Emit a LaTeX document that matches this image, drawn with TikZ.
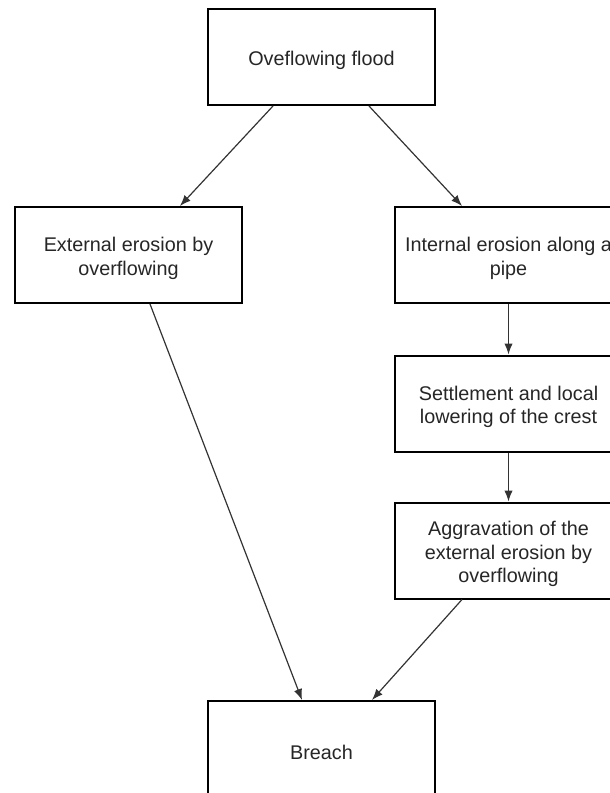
\documentclass[tikz,border=0pt]{standalone}
\usepackage{fontspec}
\setmainfont{Liberation Sans}
\usetikzlibrary{arrows.meta}
\newcommand{\toppad}{\rule{0pt}{10.6pt}}

\begin{document}
\begin{tikzpicture}[x=0.5pt,y=-0.5pt,
    box/.style={draw,line width=1pt,minimum width=113.5pt,minimum height=48pt,
        inner sep=0pt,align=center,text=black!85,font=\fontsize{9.9}{11.6}\selectfont},
    arr/.style={-{Latex[length=5.5pt,width=4.2pt]},line width=0.6pt,draw=black!80}]
    \useasboundingbox (0,0) rectangle (610,793);

    \node[box] (flood) at (321.5,57) {\toppad Oveflowing flood};
    \node[box] (ext) at (128.5,255) {\toppad External erosion by\\overflowing};
    \node[box] (int) at (508.5,255) {\toppad Internal erosion along a\\pipe};
    \node[box] (settle) at (508.5,403.5) {\toppad Settlement and local\\lowering of the crest};
    \node[box] (aggr) at (508.5,550.5) {\toppad Aggravation of the\\external erosion by\\overflowing};
    \node[box] (breach) at (321.5,749) {\toppad Breach};

    \draw[arr] ([xshift=-24.25pt]flood.south) -- ([xshift=25.75pt]ext.north);
    \draw[arr] ([xshift=23.75pt]flood.south) -- ([xshift=-23.25pt]int.north);
    \draw[arr] (int) -- (settle);
    \draw[arr] (settle) -- (aggr);
    \draw[arr] ([xshift=10.75pt]ext.south) -- ([xshift=-9.75pt]breach.north);
    \draw[arr] ([xshift=-23.25pt]aggr.south) -- ([xshift=25.25pt]breach.north);
\end{tikzpicture}
\end{document}
